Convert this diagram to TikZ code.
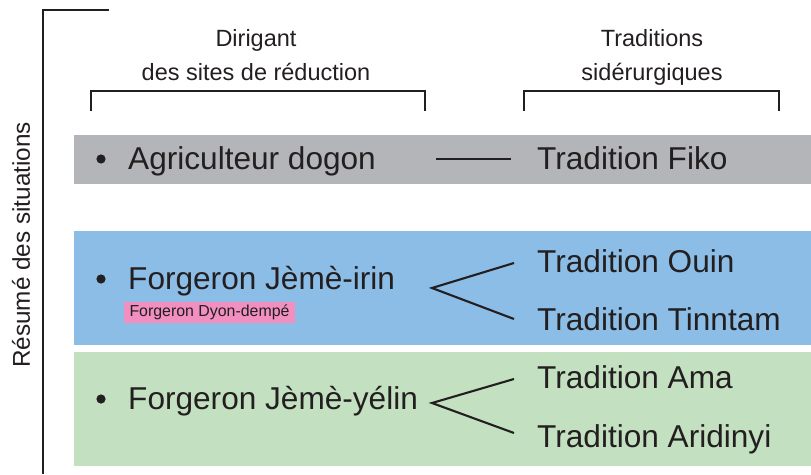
\documentclass[tikz,border=0pt]{standalone}
\usepackage{fontspec}
\setmainfont{Liberation Sans}
\definecolor{ink}{HTML}{231F20}
\definecolor{rowgray}{HTML}{B4B5B8}
\definecolor{rowblue}{HTML}{8BBDE6}
\definecolor{rowgreen}{HTML}{C3E1C1}
\definecolor{tagpink}{HTML}{F08FC0}
\begin{document}
\begin{tikzpicture}[x=1pt,y=-1pt,
  big/.style={inner sep=0pt,anchor=base west,text=ink,font=\fontsize{31.6}{36}\selectfont},
  head/.style={inner sep=0pt,anchor=base,text=ink,font=\fontsize{23.5}{28}\selectfont},
  rule/.style={draw=ink,line width=1.9pt},
  fork/.style={draw=ink,line width=2.1pt},
  dot/.style={fill=ink}]
\useasboundingbox (0,0) rectangle (811,474);
% bands
\fill[rowgray] (74,135) rectangle (811,184);
\fill[rowblue] (74,231) rectangle (811,345);
\fill[rowgreen] (74,352) rectangle (811,466);
% left frame
\draw[rule] (109,10) -- (43,10) -- (43,474);
\node[rotate=90,text=ink,inner sep=0pt,font=\fontsize{24.3}{28}\selectfont] (resume) at (21,245) {Résumé des situations};
% headers
\node[head] (hdir1) at (256,46) {Dirigant};
\node[head] (hdir2) at (256,80) {des sites de réduction};
\node[head] (htrad1) at (652,46) {Traditions};
\node[head] (htrad2) at (652,80) {sidérurgiques};
\draw[rule] (91,111) -- (91,91) -- (425,91) -- (425,111);
\draw[rule] (524,111) -- (524,91) -- (779,91) -- (779,111);
% row 1
\fill[dot] (101,159) circle (4.6);
\node[big] (agri) at (128,169.5) {Agriculteur dogon};
\node[big] (fiko) at (537,169.5) {Tradition Fiko};
\coordinate (l1a) at (436,159);
\coordinate (l1b) at (511,159);
\draw[fork] (l1a) -- (l1b);
% row 2
\fill[dot] (101,279) circle (4.6);
\node[big] (irin) at (128,289.3) {Forgeron Jèmè-irin};
\node[fill=tagpink,text=ink,inner sep=0pt,minimum width=171pt,minimum height=21pt,font=\fontsize{15.9}{18}\selectfont] (dyon) at (209.5,312.5) {Forgeron Dyon-dempé};
\node[big] (ouin) at (537,272) {Tradition Ouin};
\node[big] (tinn) at (537,330) {Tradition Tinntam};
\coordinate (f2) at (432,288);
\coordinate (f2a) at (514,263);
\coordinate (f2b) at (514,319);
\draw[fork] (f2a) -- (f2) -- (f2b);
% row 3
\fill[dot] (101,399) circle (4.6);
\node[big] (yelin) at (128,409.3) {Forgeron Jèmè-yélin};
\node[big] (ama) at (537,388) {Tradition Ama};
\node[big] (arid) at (537,447) {Tradition Aridinyi};
\coordinate (f3) at (432,403);
\coordinate (f3a) at (514,379);
\coordinate (f3b) at (514,433);
\draw[fork] (f3a) -- (f3) -- (f3b);
\end{tikzpicture}
\end{document}
